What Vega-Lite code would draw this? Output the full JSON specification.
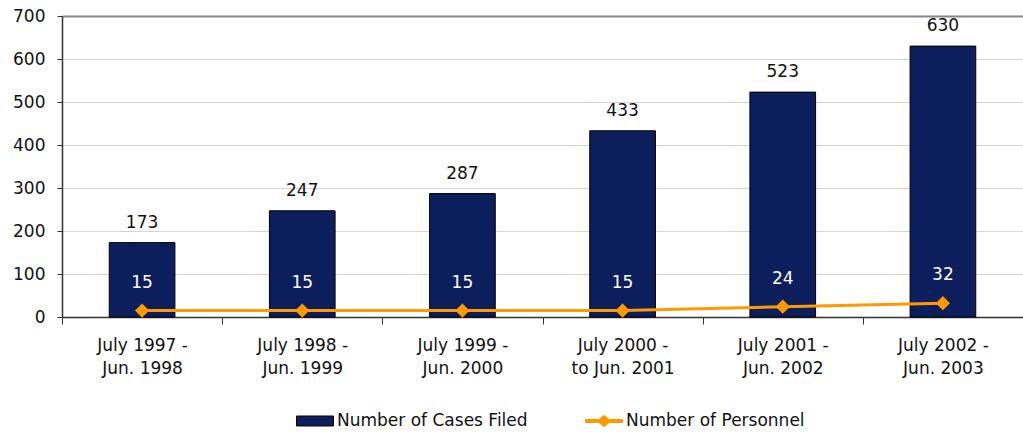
{
  "$schema": "https://vega.github.io/schema/vega-lite/v6.json",
  "width": 961,
  "height": 301,
  "autosize": {"type": "none"},
  "padding": {"left": 62, "top": 16, "right": 0, "bottom": 115},
  "background": "white",
  "config": {
    "view": {"stroke": null},
    "font": "DejaVu Sans",
    "axis": {"labelFont": "DejaVu Sans", "labelFontSize": 17, "labelColor": "#111", "domainColor": "#333", "tickColor": "#333", "domainWidth": 1.5}
  },
  "data": {
    "values": [
      {"period": "July 1997 - Jun. 1998", "cases": 173, "personnel": 15},
      {"period": "July 1998 - Jun. 1999", "cases": 247, "personnel": 15},
      {"period": "July 1999 - Jun. 2000", "cases": 287, "personnel": 15},
      {"period": "July 2000 - to Jun. 2001", "cases": 433, "personnel": 15},
      {"period": "July 2001 - Jun. 2002", "cases": 523, "personnel": 24},
      {"period": "July 2002 - Jun. 2003", "cases": 630, "personnel": 32}
    ]
  },
  "encoding": {
    "x": {
      "field": "period", "type": "nominal", "sort": null,
      "scale": {"paddingInner": 0, "paddingOuter": 0},
      "axis": {
        "title": null, "labelAngle": 0, "tickBand": "extent", "tickSize": 7,
        "labelPadding": 13, "labelLineHeight": 23,
        "labelExpr": "[slice(datum.label, 0, 11), slice(datum.label, 12)]"
      }
    }
  },
  "layer": [
    {
      "mark": {"type": "bar", "width": {"band": 0.41}, "stroke": "#000", "strokeWidth": 1},
      "encoding": {
        "y": {
          "field": "cases", "type": "quantitative",
          "scale": {"domain": [0, 700], "nice": false},
          "axis": {
            "title": null, "values": [0, 100, 200, 300, 400, 500, 600, 700],
            "tickSize": 5, "labelPadding": 12,
            "gridColor": {"condition": {"test": "datum.value === 700", "value": "#888"}, "value": "#d4d4d4"},
            "gridWidth": {"condition": {"test": "datum.value === 700", "value": 2}, "value": 1}
          }
        },
        "fill": {
          "datum": "Number of Cases Filed",
          "scale": {"domain": ["Number of Cases Filed"], "range": ["#0C1E5B"]},
          "legend": {
            "title": null, "orient": "none", "direction": "horizontal",
            "legendX": 234, "legendY": 386,
            "labelFont": "DejaVu Sans", "labelFontSize": 17, "labelColor": "#111", "labelLimit": 400,
            "symbolSize": 1369, "labelOffset": 3,
            "symbolType": "M-1,-0.27L1,-0.27L1,0.27L-1,0.27Z",
            "symbolStrokeColor": "#000", "symbolStrokeWidth": 1,
            "encode": {"symbols": {"update": {"stroke": {"value": "#000"}, "strokeWidth": {"value": 1}, "opacity": {"value": 1}}}}
          }
        }
      }
    },
    {
      "mark": {"type": "text", "dy": -20, "fontSize": 17, "color": "#111", "baseline": "middle"},
      "encoding": {
        "y": {"field": "cases", "type": "quantitative"},
        "text": {"field": "cases", "type": "quantitative"}
      }
    },
    {
      "mark": {"type": "line", "strokeWidth": 3, "point": {"shape": "diamond", "size": 130, "filled": true, "color": "#FF9900"}},
      "encoding": {
        "y": {"field": "personnel", "type": "quantitative"},
        "stroke": {
          "datum": "Number of Personnel",
          "scale": {"domain": ["Number of Personnel"], "range": ["#FF9900"]},
          "legend": {
            "title": null, "orient": "none", "direction": "horizontal",
            "legendX": 523, "legendY": 386,
            "labelFont": "DejaVu Sans", "labelFontSize": 17, "labelColor": "#111", "labelLimit": 400,
            "symbolSize": 1369, "labelOffset": 3,
            "symbolType": "M-1,-0.08L-0.28,-0.08L0,-0.3L0.28,-0.08L1,-0.08L1,0.08L0.28,0.08L0,0.3L-0.28,0.08L-1,0.08Z",
            "encode": {"symbols": {"update": {"fill": {"value": "#FF9900"}, "stroke": {"value": "#FF9900"}, "strokeWidth": {"value": 1}, "opacity": {"value": 1}}}}
          }
        }
      }
    },
    {
      "mark": {"type": "text", "dy": -28, "fontSize": 17, "color": "#ffffff", "baseline": "middle"},
      "encoding": {
        "y": {"field": "personnel", "type": "quantitative"},
        "text": {"field": "personnel", "type": "quantitative"}
      }
    }
  ]
}
